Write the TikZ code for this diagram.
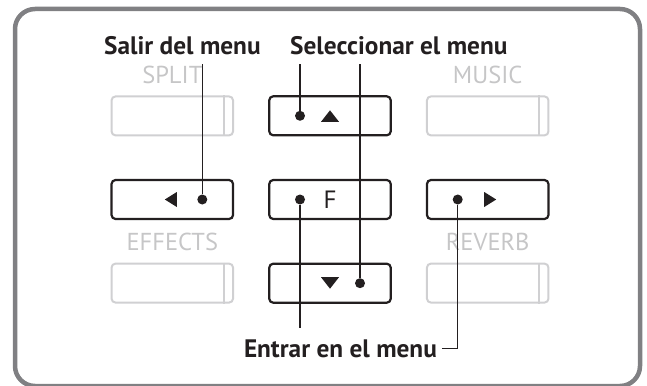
\documentclass[tikz,border=0pt]{standalone}
\usepackage{fontspec}
\setmainfont{PT Sans}
\usepackage{tikz}
\usetikzlibrary{shapes.geometric,positioning,calc}
\definecolor{KEYdark}{RGB}{35,31,32}
\definecolor{KEYgray}{RGB}{208,208,210}
\definecolor{KEYframe}{RGB}{128,128,131}
\tikzstyle{kbox}  = [rectangle, rounded corners=4pt, inner sep=0pt,
                     minimum width=121.5pt, minimum height=39pt,
                     font=\fontsize{25}{30}\selectfont]
\tikzstyle{Kon}   = [kbox, draw=KEYdark, line width=2.2pt, text=KEYdark]
\tikzstyle{Koff}  = [kbox, draw=KEYgray, line width=2pt]
\tikzstyle{Lbl}   = [inner sep=0pt, text=KEYdark,
                     font=\bfseries\fontsize{25.3}{30}\selectfont]
\tikzstyle{Lgray} = [inner sep=0pt, text=KEYgray!95!black,
                     font=\fontsize{24.5}{28}\selectfont]
\tikzstyle{tri}   = [fill=KEYdark]
\tikzstyle{pin}   = [circle, fill=KEYdark, inner sep=0pt, minimum size=10pt]
\tikzstyle{wire}  = [draw=KEYdark, line width=1.2pt]

\begin{document}
\begin{tikzpicture}[x=1pt, y=-1pt, node distance=42.5pt and 34pt]
  \useasboundingbox (0,0) rectangle (647,385);
  \draw[KEYframe, line width=4.5pt, rounded corners=20pt] (15,9) rectangle (640,386);

  \node[Kon]  (fkey) at (330,199.5) {F};
  \node[Kon,  above=of fkey] (upkey) {};
  \node[Kon,  below=of fkey] (dnkey) {};
  \node[Kon,  left=of fkey]  (lkey)  {};
  \node[Kon,  right=of fkey] (rkey)  {};
  \node[Koff, above=of lkey] (gsplit)  {};
  \node[Koff, above=of rkey] (gmusic)  {};
  \node[Koff, below=of lkey] (geffect) {};
  \node[Koff, below=of rkey] (greverb) {};
  \foreach \g in {gsplit,gmusic,geffect,greverb}
    \draw[KEYgray, line width=2pt] ([xshift=-10pt]\g.north east) -- ([xshift=-10pt]\g.south east);

  \node[Lgray, above=11pt of gsplit] (tsplit) {SPLIT};
  \node[Lgray, above=11pt of gmusic] (tmusic) {MUSIC};
  \node[Lgray, below=13pt of lkey]   (teffect) {EFFECTS};
  \node[Lgray, below=13pt of rkey]   (treverb) {REVERB};

  \fill[tri] ($(upkey.center)+(-9,6)$) -- ++(18,0) -- ++(-9,-11.5) -- cycle;
  \fill[tri] ($(dnkey.center)+(-9,-6)$) -- ++(18,0) -- ++(-9,11.5) -- cycle;
  \fill[tri] ($(lkey.center)+(4.5,-7.5)$) -- ++(0,15) -- ++(-12,-7.5) -- cycle;
  \fill[tri] ($(rkey.center)+(-3.5,-7.5)$) -- ++(0,15) -- ++(12,-7.5) -- cycle;

  \node[pin] (udot) at ([xshift=-30pt]upkey.center) {};
  \node[pin] (ldot) at ([xshift=30pt]lkey.center)   {};
  \node[pin] (fdot) at ([xshift=-30pt]fkey.center)  {};
  \node[pin] (rdot) at ([xshift=-30pt]rkey.center)  {};
  \node[pin] (ddot) at ([xshift=30pt]dnkey.center)  {};

  \node[Lbl, anchor=base west, outer ysep=9pt] (sal) at (104,55) {Salir del menu};
  \node[Lbl, anchor=base west, outer ysep=9pt] (sel) at (290,55) {Seleccionar el menu};
  \node[Lbl, anchor=base west, outer xsep=5pt, outer ysep=11pt] (ent) at (239,357) {Entrar en el menu};

  \draw[wire] (sal.south -| ldot) -- (ldot);
  \draw[wire] (sel.south -| udot) -- (udot);
  \draw[wire] (sel.south -| ddot) -- (ddot);
  \draw[wire] (fdot) -- (fdot |- ent.north);
  \draw[wire] (ent.east) -| (rdot);
\end{tikzpicture}
\end{document}
